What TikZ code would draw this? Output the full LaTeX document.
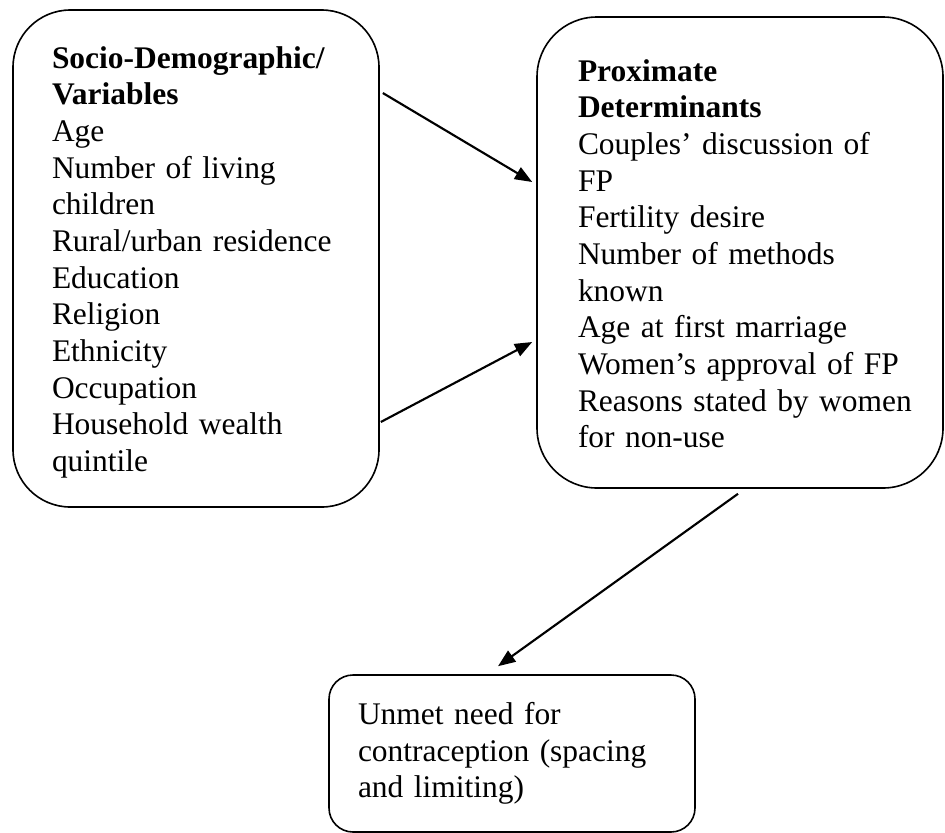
\documentclass[tikz,border=0pt]{standalone}
\usepackage{fontspec}
\setmainfont{Liberation Serif}
\usetikzlibrary{arrows.meta,calc}

\begin{document}
\begin{tikzpicture}[x=0.75pt,y=-0.75pt,
    box/.style={draw,line width=1.2pt,align=left,font=\fontsize{23.6}{27.5}\selectfont},
    link/.style={line width=1.6pt,-{Triangle[length=13pt,width=10pt]}}]
    \useasboundingbox (0,0) rectangle (945,832);
    % Boxes
    \node[box,rounded corners=43pt,text width=216pt,inner xsep=29.25pt,minimum height=372.75pt] (socio) at (196,258.5)
        {\rule{0pt}{22pt}\textbf{Socio-Demographic/}\\\textbf{Variables}\\Age\\Number of living\\children\\\mbox{Rural/urban residence}\\Education\\Religion\\Ethnicity\\Occupation\\Household wealth\\quintile};
    \node[box,rounded corners=45pt,text width=243pt,inner xsep=30.75pt,minimum height=353.25pt] (prox) at (740,252.5)
        {\rule{0pt}{18pt}\textbf{Proximate}\\\textbf{Determinants}\\\mbox{Couples’ discussion of}\\FP\\Fertility desire\\Number of methods\\known\\Age at first marriage\\\mbox{Women’s approval of FP}\\\mbox{Reasons stated by women}\\for non-use};
    \node[box,rounded corners=18pt,text width=231pt,inner xsep=21.75pt,minimum height=117.75pt] (unmet) at (512,753.5)
        {Unmet need for\\\mbox{contraception (spacing}\\and limiting)};
    % Arrows
    \draw[link] ($(socio.east)+(3,-165.5)$) -- ($(prox.west)+(-4,-70.5)$);
    \draw[link] ($(socio.east)+(1,163.5)$) -- ($(prox.west)+(-4,89.5)$);
    \draw[link] ($(prox.south)+(-2,5)$) -- ($(unmet.north)+(-14,-8)$);
\end{tikzpicture}
\end{document}
